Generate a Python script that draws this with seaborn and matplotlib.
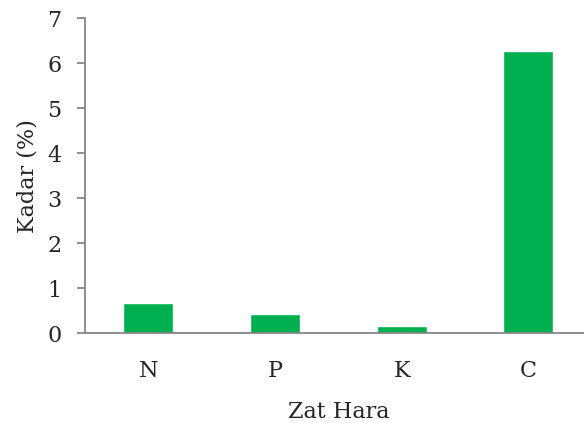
import numpy as np
import matplotlib.pyplot as plt
import seaborn as sns
import pandas as pd

# data
zat_hara = ['N', 'P', 'K', 'C']
kadar = [0.67, 0.44, 0.17, 6.28]
y_ticks = [0, 1, 2, 3, 4, 5, 6, 7]

df = pd.DataFrame({'Zat Hara': zat_hara, 'Kadar': kadar})

sns.set_style('white')
plt.rcParams['font.family'] = ['DejaVu Serif']

fig = plt.figure(figsize=(5.84, 4.23), dpi=100)
ax = fig.add_axes([0.1455, 0.212, 0.8676, 0.745])

sns.barplot(data=df, x='Zat Hara', y='Kadar', color='#00B050',
            saturation=1, width=0.395, ax=ax)

grey = '#868686'
fs = 16
ax.set_xlim(-0.5, 3.5)
ax.set_ylim(0, 7)
ax.set_yticks(y_ticks)
ax.set_yticklabels([str(t) for t in y_ticks], fontsize=fs)
ax.set_xticks(range(len(zat_hara)))
ax.set_xticklabels(zat_hara, fontsize=fs)
ax.set_xticks(np.arange(-0.5, len(zat_hara), 1.0), minor=True)
ax.tick_params(axis='x', which='major', length=0, pad=19)
ax.tick_params(axis='x', which='minor', length=6, direction='out', color=grey, width=1.3)
ax.tick_params(axis='y', length=6, direction='out', color=grey, width=1.3, pad=11, left=True)

for side in ['top', 'right']:
    ax.spines[side].set_visible(False)
for side in ['left', 'bottom']:
    ax.spines[side].set_color(grey)
    ax.spines[side].set_linewidth(1.3)

ax.set_xlabel('Zat Hara', fontsize=fs, labelpad=14)
ax.set_ylabel('Kadar (%)', fontsize=fs, labelpad=6)

fig.savefig('out.png', dpi=100)
